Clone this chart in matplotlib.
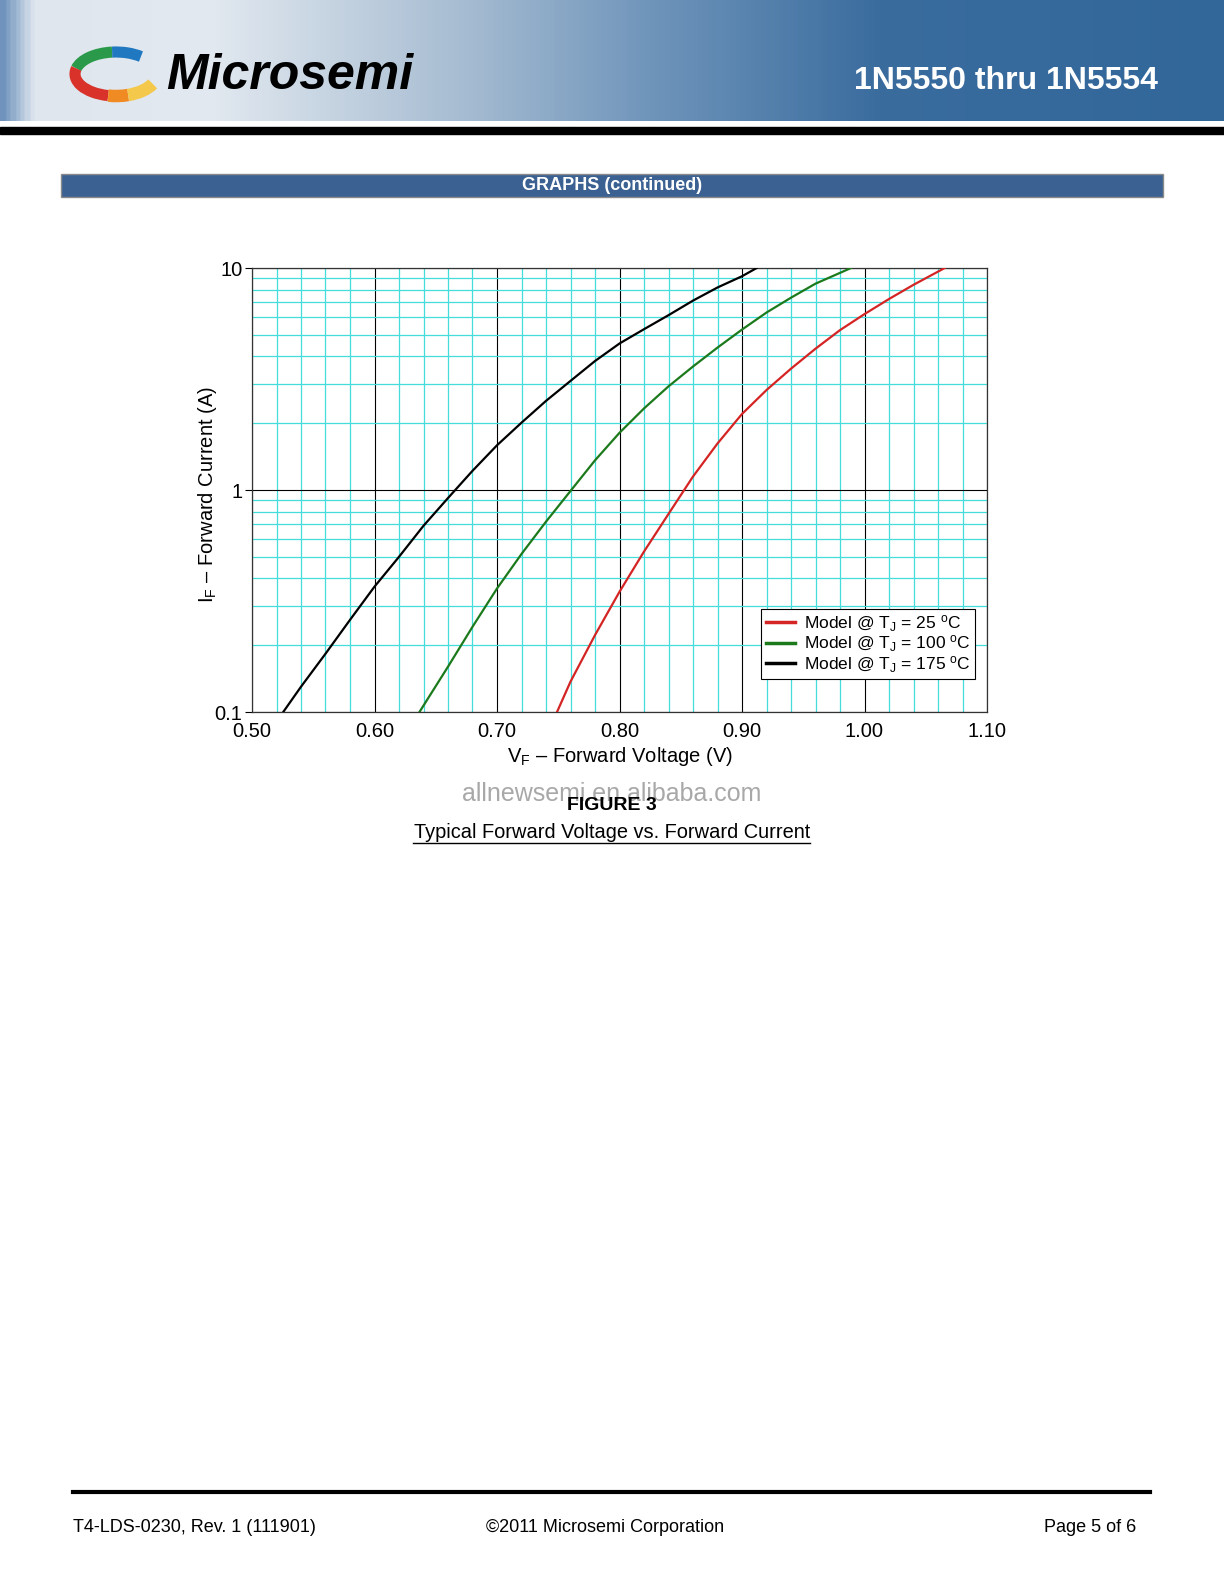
import numpy as np
import matplotlib
matplotlib.use("Agg")
import matplotlib.pyplot as plt
from matplotlib.patches import Rectangle, Arc
from matplotlib.colors import LinearSegmentedColormap
from matplotlib.ticker import MultipleLocator, LogLocator, NullFormatter, FixedLocator, FixedFormatter

plt.rcParams['font.family'] = ['Liberation Sans', 'DejaVu Sans']
plt.rcParams['mathtext.fontset'] = 'custom'
plt.rcParams['mathtext.rm'] = 'Liberation Sans'
plt.rcParams['mathtext.it'] = 'Liberation Sans:italic'

# Datos (VF en V, IF en A)
vf_25 = [0.749, 0.76, 0.78, 0.80, 0.82, 0.84, 0.86, 0.88, 0.90, 0.92, 0.94,
         0.96, 0.98, 1.00, 1.02, 1.04, 1.0655]
if_25 = [0.10, 0.137, 0.222, 0.348, 0.528, 0.78, 1.15, 1.62, 2.20, 2.82, 3.52,
         4.33, 5.25, 6.20, 7.25, 8.40, 10.0]

vf_100 = [0.6367, 0.66, 0.68, 0.70, 0.72, 0.74, 0.76, 0.78, 0.80, 0.82, 0.84, 0.86,
          0.88, 0.90, 0.92, 0.94, 0.96, 0.989]
if_100 = [0.10, 0.16, 0.242, 0.36, 0.515, 0.72, 0.99, 1.36, 1.81, 2.33, 2.93, 3.60,
          4.38, 5.28, 6.30, 7.35, 8.50, 10.0]

vf_175 = [0.5255, 0.54, 0.56, 0.58, 0.60, 0.62, 0.64, 0.66, 0.68, 0.70, 0.72,
          0.74, 0.76, 0.78, 0.80, 0.82, 0.84, 0.86, 0.88, 0.90, 0.912]
if_175 = [0.10, 0.13, 0.183, 0.26, 0.367, 0.50, 0.69, 0.92, 1.22, 1.59, 2.01,
          2.52, 3.10, 3.81, 4.57, 5.30, 6.13, 7.13, 8.17, 9.18, 10.0]

etiquetas = ['Model @ T$_\\mathrm{J}$ = 25 $^\\mathrm{o}$C',
             'Model @ T$_\\mathrm{J}$ = 100 $^\\mathrm{o}$C',
             'Model @ T$_\\mathrm{J}$ = 175 $^\\mathrm{o}$C']
colores = ['#d42424', '#1c7a1c', '#000000']

x_ticks = [0.50, 0.60, 0.70, 0.80, 0.90, 1.00, 1.10]
x_labels = ['0.50', '0.60', '0.70', '0.80', '0.90', '1.00', '1.10']
y_ticks = [0.1, 1, 10]
y_labels = ['0.1', '1', '10']

W, H = 1224, 1584
fig = plt.figure(figsize=(W / 100, H / 100), dpi=100)

# Pagina (coordenadas en pixeles, y hacia abajo)
bg = fig.add_axes([0, 0, 1, 1])
bg.set_xlim(0, W)
bg.set_ylim(H, 0)
bg.axis('off')

# Cabecera con degradado
cmap = LinearSegmentedColormap.from_list('cab', [
    (0.0, '#6f93bd'), (0.025, '#dfe6ee'), (0.17, '#e2e9f0'), (0.37, '#a9bed3'),
    (0.53, '#7095bb'), (0.72, '#3a6c9e'), (1.0, '#32679a')])
grad = np.linspace(0, 1, 600).reshape(1, -1)
bg.imshow(grad, cmap=cmap, extent=[0, W, 121, 0], aspect='auto', zorder=0)
bg.add_patch(Rectangle((0, 127), W, 7, color='black', zorder=1))

# Logo aproximado (angulos negativos porque el eje y esta invertido)
cx, cy = 116, 74
for a1, a2, c, w in [(100, 172, '#2a9a4a', 8), (35, 100, '#1f78c0', 8),
                     (172, 250, '#d8322a', 8), (250, 300, '#f08a22', 9),
                     (300, 345, '#f4c84a', 9)]:
    bg.add_patch(Arc((cx, cy), 82, 44, theta1=-a2, theta2=-a1, color=c, lw=w, zorder=2))
bg.text(166, 76, 'Microsemi', fontsize=36, fontweight='bold', fontstyle='italic',
        color='black', ha='left', va='center', zorder=3)
bg.text(1158, 81, '1N5550 thru 1N5554', fontsize=23, fontweight='bold',
        color='white', ha='right', va='center', zorder=3)

# Barra de seccion
bg.add_patch(Rectangle((61, 174), 1102, 23, facecolor='#3a6192', edgecolor='#8a8a8a', lw=1, zorder=1))
bg.text(612, 185.5, 'GRAPHS (continued)', fontsize=13, fontweight='bold',
        color='white', ha='center', va='center', zorder=3)

# Pie del grafico
bg.text(612, 794, 'allnewsemi.en.alibaba.com', fontsize=18, color='#a8a8a8',
        ha='center', va='center', zorder=2)
bg.text(612, 806, 'FIGURE 3', fontsize=14, fontweight='bold', color='black',
        ha='center', va='center', zorder=3)
bg.text(612, 833, 'Typical Forward Voltage vs. Forward Current', fontsize=14.4,
        color='black', ha='center', va='center', zorder=3)
bg.plot([413, 810], [843, 843], color='black', lw=1)

# Pie de pagina
bg.plot([73, 1150], [1492, 1492], color='black', lw=3)
bg.text(73, 1527, 'T4-LDS-0230, Rev. 1 (111901)', fontsize=13, ha='left', va='center')
bg.text(486, 1527, '\u00a92011 Microsemi Corporation', fontsize=13, ha='left', va='center')
bg.text(1136, 1527, 'Page 5 of 6', fontsize=13, ha='right', va='center')

# Grafico
ax = fig.add_axes([252 / W, 1 - 712 / H, 735 / W, 444 / H])
ax.set_yscale('log')
ax.set_xlim(0.50, 1.10)
ax.set_ylim(0.1, 10)

for vf, i_f, c, et in zip([vf_25, vf_100, vf_175], [if_25, if_100, if_175], colores, etiquetas):
    ax.plot(vf, i_f, color=c, lw=1.6, label=et, zorder=3)

ax.xaxis.set_major_locator(FixedLocator(x_ticks))
ax.xaxis.set_major_formatter(FixedFormatter(x_labels))
ax.xaxis.set_minor_locator(MultipleLocator(0.02))
ax.yaxis.set_major_locator(FixedLocator(y_ticks))
ax.yaxis.set_major_formatter(FixedFormatter(y_labels))
ax.yaxis.set_minor_locator(LogLocator(base=10, subs=np.arange(2, 10)))
ax.yaxis.set_minor_formatter(NullFormatter())

ax.grid(which='minor', color='#45dcdc', lw=0.9)
ax.grid(which='major', color='black', lw=0.8)
ax.tick_params(axis='x', which='both', length=0, labelsize=14.5, pad=7)
ax.tick_params(axis='y', which='major', length=5, width=0.8, labelsize=14.5, pad=2)
ax.tick_params(axis='y', which='minor', length=0)
for s in ax.spines.values():
    s.set_color('#333333')
    s.set_linewidth(0.9)

ax.set_xlabel('V$_\\mathrm{F}$ \u2013 Forward Voltage (V)', fontsize=14.5, labelpad=3)
ax.set_ylabel('I$_\\mathrm{F}$ \u2013 Forward Current (A)', fontsize=14.5)
ax.yaxis.set_label_coords(-0.045, 0.49)

leg = ax.legend(loc='lower right', bbox_to_anchor=(0.9837, 0.0743), borderaxespad=0,
                fontsize=12.5, fancybox=False, framealpha=1, edgecolor='black',
                handlelength=1.7, labelspacing=0.0, borderpad=0.25, handletextpad=0.5)
leg.get_frame().set_linewidth(0.8)
for ln in leg.get_lines():
    ln.set_linewidth(2.5)

fig.savefig('out.png', dpi=100)
